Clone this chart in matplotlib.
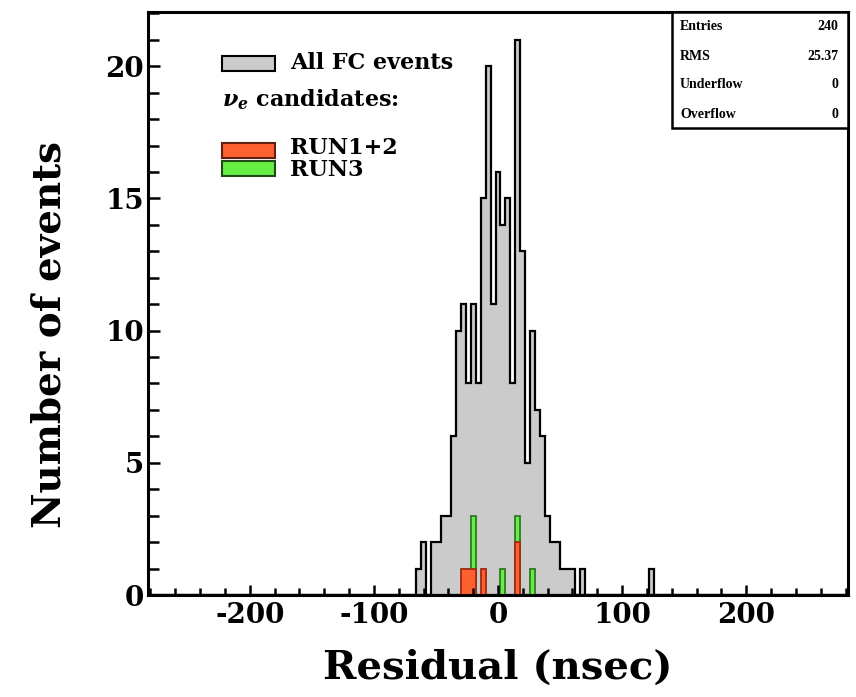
import numpy as np
import matplotlib
matplotlib.use("Agg")
from matplotlib import pyplot as plt
from matplotlib.patches import Rectangle
from matplotlib.ticker import MultipleLocator

# bin centres (ns) and counts, 4 ns bins
allCenters = [-64, -60, -52, -48, -44, -40, -36, -32, -28, -24, -20, -16, -12, -8, -4,
              0, 4, 8, 12, 16, 20, 24, 28, 32, 36, 40, 44, 48, 52, 56, 60, 68, 124]
allCounts = [1, 2, 2, 2, 3, 3, 6, 10, 11, 8, 11, 8, 15, 20, 11,
             16, 14, 15, 8, 21, 13, 5, 10, 7, 6, 3, 2, 2, 1, 1, 1, 1, 1]

run12Centers = [-28, -24, -20, -12, 16]
run12Counts = [1, 1, 1, 1, 2]

run3Centers = [-20, 4, 16, 28]
run3Counts = [3, 1, 3, 1]

statNames = ["Entries", "RMS", "Underflow", "Overflow"]
statValues = ["240", "25.37", "0", "0"]

edges = np.arange(-282, 283, 4)

plt.rcParams['font.family'] = ['DejaVu Serif']
plt.rcParams['font.weight'] = 'bold'
plt.rcParams['mathtext.fontset'] = 'dejavuserif'
plt.rcParams['axes.unicode_minus'] = False

fig = plt.figure(figsize=(8.56, 6.97), dpi=100)
ax = fig.add_axes([148 / 856, 1 - 595 / 697, 700 / 856, 583 / 697])

ax.hist(allCenters, bins=edges, weights=allCounts, histtype='stepfilled',
        facecolor='#cbcbcb', edgecolor='black', linewidth=1.6)
ax.hist(run3Centers, bins=edges, weights=run3Counts, histtype='stepfilled',
        facecolor='#66ee44', edgecolor='#2f7a25', linewidth=1.3)
ax.hist(run12Centers, bins=edges, weights=run12Counts, histtype='stepfilled',
        facecolor='#ff6030', edgecolor='#a02a10', linewidth=1.3)

ax.set_xlim(-282, 282)
ax.set_ylim(0, 22.05)
ax.xaxis.set_major_locator(MultipleLocator(100))
ax.xaxis.set_minor_locator(MultipleLocator(20))
ax.yaxis.set_major_locator(MultipleLocator(5))
ax.yaxis.set_minor_locator(MultipleLocator(1))
ax.tick_params(which='both', direction='in', top=False, right=False, width=1.8)
ax.tick_params(which='major', labelsize=20)
ax.tick_params(axis='x', which='major', length=7.5, pad=5)
ax.tick_params(axis='x', which='minor', length=5)
ax.tick_params(axis='y', which='major', length=8.5, pad=3)
ax.tick_params(axis='y', which='minor', length=8)
for s in ax.spines.values():
    s.set_linewidth(2.2)
for lab in ax.get_xticklabels() + ax.get_yticklabels():
    lab.set_fontweight('bold')

ax.set_xlabel("Residual (nsec)", fontsize=29, fontweight='bold', labelpad=14)
ax.set_ylabel("Number of events", fontsize=28, fontweight='bold')
ax.yaxis.set_label_coords(-0.1136, 0.446)

# legend drawn by hand, ROOT style
def legBox(y, color, edge):
    ax.add_patch(Rectangle((222 / 856, 1 - y / 697), 53 / 856, 15 / 697,
                           transform=fig.transFigure, facecolor=color,
                           edgecolor=edge, linewidth=1.5, clip_on=False))

legBox(71, '#cbcbcb', 'black')
fig.text(290 / 856, 1 - 63 / 697, "All FC events", fontsize=16, fontweight='bold', va='center')
fig.text(222 / 856, 1 - 100 / 697, r"$\nu_e$ candidates:", fontsize=16, fontweight='bold', va='center')
legBox(158, '#ff6030', '#602010')
legBox(176, '#66ee44', '#1f4a15')
fig.text(290 / 856, 1 - 159 / 697, "RUN1+2\nRUN3", fontsize=16, fontweight='bold',
         va='center', linespacing=0.95)

# stats box
ax.add_patch(Rectangle((672 / 856, 1 - 128 / 697), 176 / 856, 116 / 697,
                       transform=fig.transFigure, facecolor='white',
                       edgecolor='black', linewidth=1.8, clip_on=False, zorder=5))
for i, (n, v) in enumerate(zip(statNames, statValues)):
    y = 1 - (27 + i * 29) / 697
    fig.text(680 / 856, y, n, fontsize=10, fontweight='bold', va='center', zorder=6,
             family='Liberation Serif')
    fig.text(838 / 856, y, v, fontsize=10, fontweight='bold', va='center', ha='right', zorder=6,
             family='Liberation Serif')

fig.savefig("out.png", dpi=100)
